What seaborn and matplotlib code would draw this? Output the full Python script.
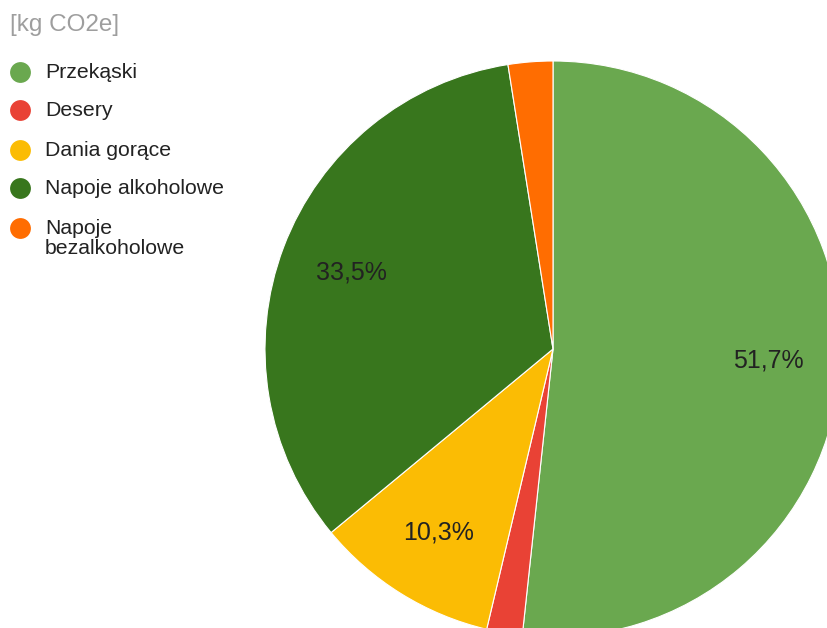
import matplotlib
matplotlib.use("Agg")
import matplotlib.pyplot as plt
import seaborn as sns

categories = ["Przekąski", "Desery", "Dania gorące", "Napoje alkoholowe", "Napoje\nbezalkoholowe"]
shares = [51.7, 2.0, 10.3, 33.5, 2.5]
colors = ["#6aa84f", "#e94235", "#fbbc04", "#38761d", "#ff6d01"]
title = "[kg CO2e]"

sns.set_style("white")
plt.rcParams["font.family"] = ["Liberation Sans", "DejaVu Sans"]

fig = plt.figure(figsize=(8.28, 6.28), dpi=100)
ax = fig.add_axes([0, 0, 1, 1])
ax.set_axis_off()

def fmt(p):
    return (f"{p:.1f}".replace(".", ",") + "%") if p >= 5 else ""

wedges, texts, autotexts = ax.pie(
    shares, colors=colors, startangle=90, counterclock=False,
    autopct=fmt, pctdistance=0.75,
    wedgeprops=dict(edgecolor="white", linewidth=0.8),
    textprops=dict(fontsize=18, color="#222222"),
)

# place pie: center at (553,349) px, radius 288 px
W, H, cx, cy, r = 828, 628, 553, 349, 288
ax.set_xlim(-cx / r, (W - cx) / r)
ax.set_ylim(-(H - cy) / r, cy / r)
ax.set_aspect("equal")

# title
fig.text(10 / W, 1 - 25 / H, title, fontsize=17.5, color="#9e9e9e", va="center", ha="left")

# legend
ys = [72, 110, 150, 188, 228]
for lab, col, y in zip(categories, colors, ys):
    fig.add_artist(plt.Line2D([20 / W], [1 - y / H], marker="o", markersize=15,
                              color=col, markeredgewidth=0, linestyle="none"))
    fig.text(45 / W, 1 - (y - 9) / H, lab, fontsize=15.3, color="#222222",
             va="top", ha="left", linespacing=1.1)

fig.savefig("out.png", dpi=100)
